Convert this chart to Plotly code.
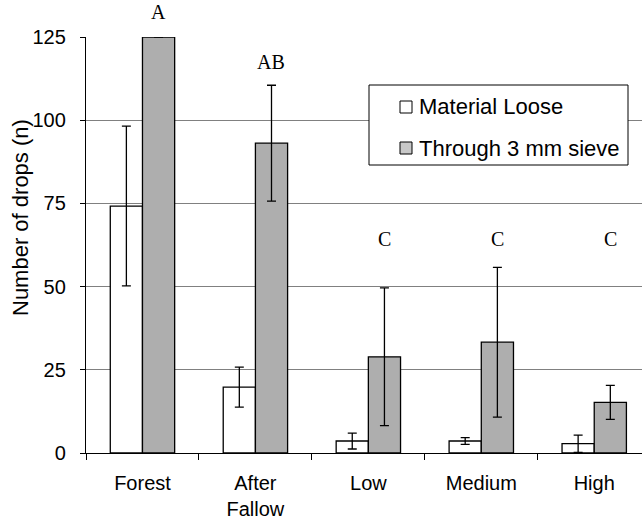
import plotly.graph_objects as go

categories = ["Forest", "After<br>Fallow", "Low", "Medium", "High"]
loose_vals = [74.2, 19.8, 3.6, 3.6, 2.8]
loose_err = [24.0, 6.0, 2.4, 1.0, 2.6]
sieve_vals = [125.0, 93.1, 28.9, 33.3, 15.2]
sieve_err = [None, 17.4, 20.7, 22.5, 5.1]
series_names = ["Material Loose", "Through 3 mm sieve"]
letters = ["A", "AB", "C", "C", "C"]
letter_y = [132.4, 117.4, 64.4, 64.4, 64.4]
y_title = "Number of drops (n)"

FONT = "Liberation Sans, Arial, sans-serif"
SERIF = "Liberation Serif, Times New Roman, serif"
Y_MAX = 125
W, H = 642, 523
M_L, M_R, M_T, M_B = 86, 0, 37, 70
PLOT_W, PLOT_H = W - M_L - M_R, H - M_T - M_B
PX_PER_UNIT = PLOT_H / Y_MAX

LOOSE_FILL = "white"
SIEVE_FILL = "#c8c8c8"


def px_x(px):
    """Pixel column -> paper x."""
    return (px - M_L) / PLOT_W


def px_y(py):
    """Pixel row -> paper y."""
    return (H - M_B - py) / PLOT_H


fig = go.Figure()
fig.add_trace(go.Bar(
    name=series_names[0], x=categories, y=loose_vals,
    marker=dict(color=LOOSE_FILL, line=dict(color="black", width=1.3)),
    error_y=dict(type="data", array=loose_err, visible=True,
                 color="black", thickness=1.3, width=4.5),
))
fig.add_trace(go.Bar(
    name=series_names[1], x=categories, y=sieve_vals,
    marker=dict(color=SIEVE_FILL, line=dict(color="black", width=1.3),
                pattern=dict(shape=".", size=2, solidity=0.5,
                             fgcolor="#6a6a6a", bgcolor="#e4e4e4",
                             fillmode="replace")),
    error_y=dict(type="data", array=sieve_err, visible=True,
                 color="black", thickness=1.3, width=4.5),
))

# significance letters above the sieve bars; letters above the axis top are
# anchored at the top and shifted up so they are not hidden
for cat, txt, yv in zip(categories, letters, letter_y):
    anchor = min(yv, Y_MAX)
    fig.add_annotation(x=cat, y=anchor, xref="x", yref="y", text=txt,
                       showarrow=False, xshift=16,
                       yshift=(yv - anchor) * PX_PER_UNIT,
                       font=dict(family=SERIF, size=20, color="black"))

# y-axis title as a rotated label left of the tick labels
fig.add_annotation(x=px_x(20), y=px_y(218), xref="paper", yref="paper",
                   text=y_title, textangle=-90, showarrow=False,
                   xanchor="center", yanchor="middle",
                   font=dict(family=FONT, size=22, color="black"))

# boxed legend
fig.add_shape(type="rect", xref="paper", yref="paper",
              x0=px_x(369), x1=px_x(628), y0=px_y(165), y1=px_y(85),
              line=dict(color="black", width=1), fillcolor="white",
              layer="above")
for name, fill, cy in zip(series_names, [LOOSE_FILL, SIEVE_FILL], [107, 148]):
    fig.add_shape(type="rect", xref="paper", yref="paper",
                  x0=px_x(400), x1=px_x(412), y0=px_y(cy + 6), y1=px_y(cy - 6),
                  line=dict(color="black", width=1), fillcolor=fill,
                  layer="above")
    fig.add_annotation(x=px_x(417), y=px_y(cy), xref="paper", yref="paper",
                       text=name, showarrow=False, xanchor="left",
                       yanchor="middle",
                       font=dict(family=FONT, size=22, color="black"))

fig.update_layout(
    width=W, height=H,
    margin=dict(l=M_L, r=M_R, t=M_T, b=M_B),
    paper_bgcolor="white", plot_bgcolor="white",
    barmode="group", bargap=0.43, bargroupgap=0,
    font=dict(family=FONT, size=20, color="black"),
    showlegend=False,
)

fig.update_xaxes(
    range=[-0.5, 4.423], showline=True, linecolor="black", linewidth=1.3,
    ticks="outside", tickson="boundaries", ticklen=6, tickcolor="black",
    tickwidth=1, showgrid=False, ticklabelstandoff=12,
)
fig.update_yaxes(
    range=[0, Y_MAX], tickvals=[0, 25, 50, 75, 100, 125],
    showline=True, linecolor="black", linewidth=1.3,
    ticks="outside", ticklen=5, tickcolor="black", tickwidth=1,
    showgrid=True, gridcolor="#808080", gridwidth=1.3, zeroline=False,
    ticklabelstandoff=10,
)

fig.write_html("out.html")
